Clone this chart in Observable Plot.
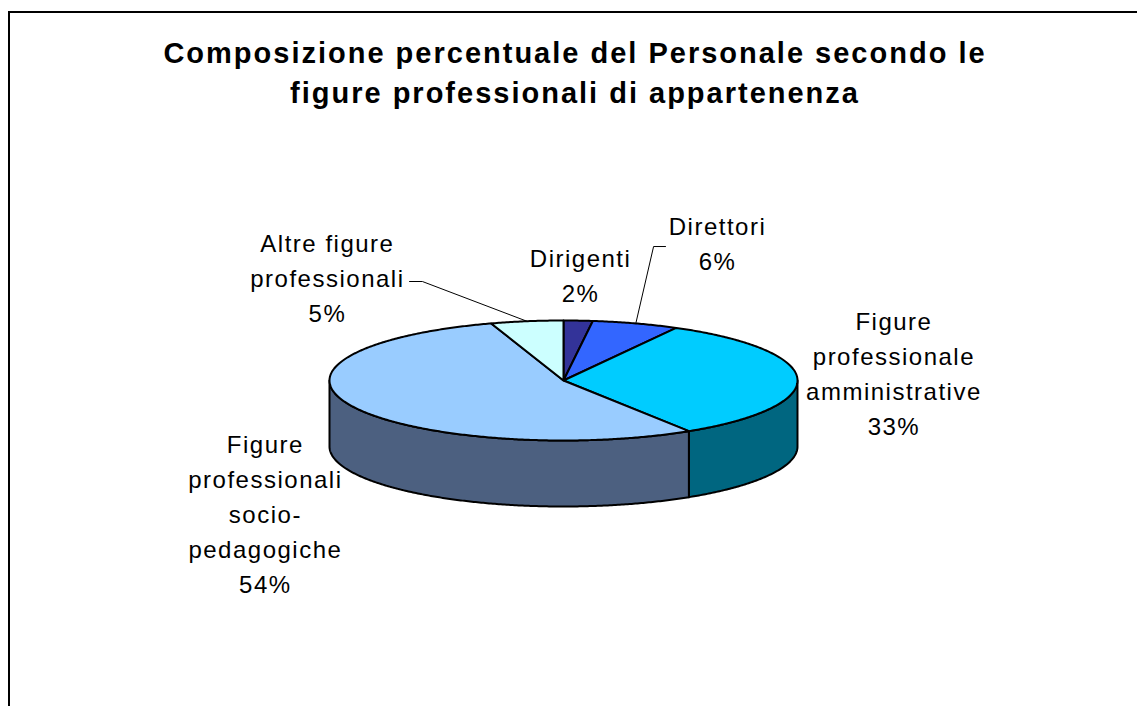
<!DOCTYPE html>
<html><head><meta charset="utf-8">
<script src="https://cdn.jsdelivr.net/npm/d3@7"></script>
<script src="https://cdn.jsdelivr.net/npm/@observablehq/plot@0.6"></script>
<style>
body{margin:0;background:#fff;overflow:hidden;font-family:"Liberation Sans",Arial,sans-serif;}
#frame{position:absolute;left:8px;top:11px;width:1200px;height:800px;border:2px solid #000;}
#title{position:absolute;left:0;top:33px;width:1150px;text-align:center;font-weight:bold;font-size:29px;line-height:40px;letter-spacing:2px;color:#000;}
#chart{position:absolute;left:0;top:120px;}
#chart text{letter-spacing:1.5px;}
</style></head>
<body>
<div id="frame"></div>
<div id="title">Composizione percentuale del Personale secondo le<br>figure professionali di appartenenza</div>
<div id="chart"></div>
<script>
// ---- data ----
const categories = ["Dirigenti", "Direttori", "Figure professionale amministrative", "Figure professionali socio-pedagogiche", "Altre figure professionali"];
const labelLines = [["Dirigenti"], ["Direttori"], ["Figure", "professionale", "amministrative"], ["Figure", "professionali", "socio-", "pedagogiche"], ["Altre figure", "professionali"]];
const values = [2, 6, 33, 54, 5];
const topColors = ["#333399", "#3366FF", "#00CCFF", "#99CCFF", "#CCFFFF"];
const sideColors = ["#1A1A4D", "#1A3380", "#006680", "#4C6080", "#668080"];

// ---- layout (pie units: radius 1 horizontally, 1 vertically on the top ellipse) ----
const depth = 1.1;
const labelPos = [[0.073, -1.78], [0.658, -2.32], [1.412, -0.155], [-1.274, 2.185], [-1.009, -1.745]];
const leaderElbows = {1: [[0.436, -2.233], [0.385, -2.233]], 4: [[-0.658, -1.65], [-0.603, -1.65]]};

// ---- geometry ----
const total = d3.sum(values);
const pt = (f, dy = 0) => ({ux: Math.sin(2 * Math.PI * f), uy: -Math.cos(2 * Math.PI * f) + dy});
const arcPts = (a, b, dy = 0) => {
  const n = Math.max(2, Math.ceil((b - a) * 720));
  return d3.range(n + 1).map(k => pt(a + (b - a) * k / n, dy));
};
let acc = 0;
const slices = values.map((v, i) => {
  const a = acc / total; acc += v; const b = acc / total;
  return {i, a, b, mid: (a + b) / 2, v};
});
const topRows = [], sideRows = [], leaderRows = [];
for (const s of slices) {
  const pts = [{ux: 0, uy: 0}, ...arcPts(s.a, s.b), {ux: 0, uy: 0}];
  pts.forEach(p => topRows.push({...p, id: s.i, color: topColors[s.i]}));
  const fa = Math.max(s.a, 0.25), fb = Math.min(s.b, 0.75);
  if (fb > fa) {
    const sp = [...arcPts(fa, fb), ...arcPts(fa, fb, depth).reverse()];
    sp.push(sp[0]);
    sp.forEach(p => sideRows.push({...p, id: s.i, color: sideColors[s.i]}));
  }
  if (leaderElbows[s.i]) {
    [...leaderElbows[s.i].map(([ux, uy]) => ({ux, uy})), pt(s.mid)]
      .forEach(p => leaderRows.push({...p, id: s.i}));
  }
}
const labels = slices.map(s => ({
  ux: labelPos[s.i][0], uy: labelPos[s.i][1],
  text: [...labelLines[s.i], `${values[s.i]}%`].join("\n")
}));

const chart = Plot.plot({
  width: 1137, height: 586,
  margin: 0,
  x: {domain: [-1, 1], range: [329, 797], axis: null},
  y: {domain: [-1, 1], range: [200, 320], axis: null},
  color: {type: "identity"},
  marks: [
    Plot.line(sideRows, {x: "ux", y: "uy", z: "id", fill: "color", stroke: "#000", strokeWidth: 2, strokeLinejoin: "round"}),
    Plot.line(topRows, {x: "ux", y: "uy", z: "id", fill: "color", stroke: "#000", strokeWidth: 2, strokeLinejoin: "round"}),
    Plot.line(leaderRows, {x: "ux", y: "uy", z: "id", stroke: "#000", strokeWidth: 1}),
    Plot.text(labels, {x: "ux", y: "uy", text: "text", fontSize: 24, lineHeight: 1.46, fill: "#000", fontFamily: "Liberation Sans, Arial, sans-serif"})
  ]
});
document.getElementById("chart").append(chart);
</script>
</body></html>
